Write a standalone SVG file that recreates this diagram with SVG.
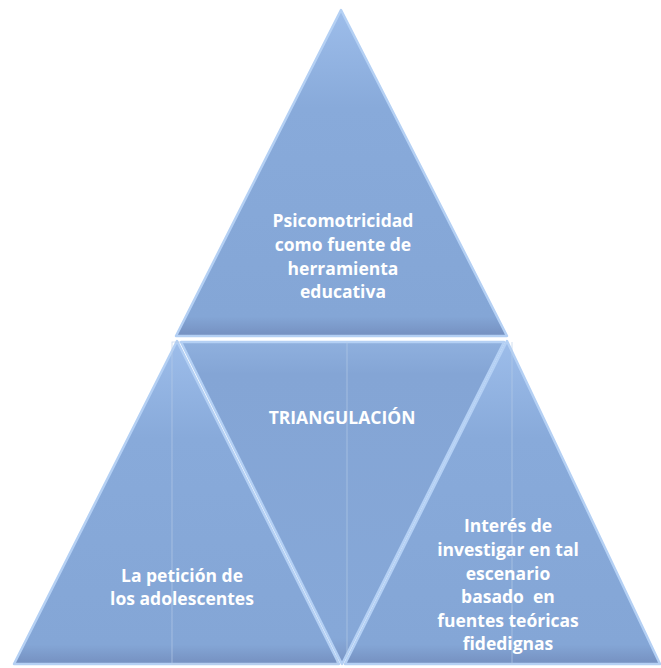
<svg xmlns="http://www.w3.org/2000/svg" width="661" height="668" viewBox="0 0 661 668">
<style>
.tri{stroke:#B4D0F4;stroke-width:2.5;stroke-linejoin:round}
.lbl{font-family:"Open Sans","Liberation Sans",sans-serif;font-weight:bold;font-size:17.5px;fill:#ffffff;text-anchor:middle}
.box{fill:none;stroke:#B8CCE8;stroke-width:0.8;opacity:0.8}
</style>
<defs>
<linearGradient id="gUp" x1="0" y1="0" x2="0" y2="1">
<stop offset="0" stop-color="#9DBDEA"/>
<stop offset="0.3" stop-color="#88AADA"/>
<stop offset="0.94" stop-color="#84A6D6"/>
<stop offset="1" stop-color="#7590C0"/>
</linearGradient>
<linearGradient id="gDown" x1="0" y1="0" x2="0" y2="1">
<stop offset="0" stop-color="#8FB0DE"/>
<stop offset="0.1" stop-color="#84A5D5"/>
<stop offset="0.92" stop-color="#86A8D8"/>
<stop offset="1" stop-color="#7A95C4"/>
</linearGradient>
</defs>
<g id="top">
<polygon class="tri" points="341,10 507,336 176,336" fill="url(#gUp)"/>
<text class="lbl" x="343" y="227">Psicomotricidad</text>
<text class="lbl" x="343" y="251">como fuente de</text>
<text class="lbl" x="343" y="275">herramienta</text>
<text class="lbl" x="343" y="298">educativa</text>
</g>
<g id="left">
<polygon class="tri" points="177,341 339,664 14,664" fill="url(#gUp)"/>
<rect class="box" x="172" y="342" width="165" height="322"/>
<text class="lbl" x="182" y="582">La petición de</text>
<text class="lbl" x="182" y="605">los adolescentes</text>
</g>
<g id="middle">
<polygon class="tri" points="181,342 504,342 342,664" fill="url(#gDown)"/>
<line class="box" x1="347" y1="342" x2="347" y2="664"/>
<text class="lbl" x="342" y="424">TRIANGULACIÓN</text>
</g>
<g id="right">
<polygon class="tri" points="507,341 660,664 345,664" fill="url(#gUp)"/>
<line class="box" x1="512" y1="342" x2="512" y2="664"/>
<text class="lbl" x="508" y="532">Interés de</text>
<text class="lbl" x="508" y="556">investigar en tal</text>
<text class="lbl" x="508" y="580">escenario</text>
<text class="lbl" x="508" y="603" xml:space="preserve">basado  en</text>
<text class="lbl" x="508" y="627">fuentes teóricas</text>
<text class="lbl" x="508" y="650">fidedignas</text>
</g>
<g id="connectors"></g>
</svg>
